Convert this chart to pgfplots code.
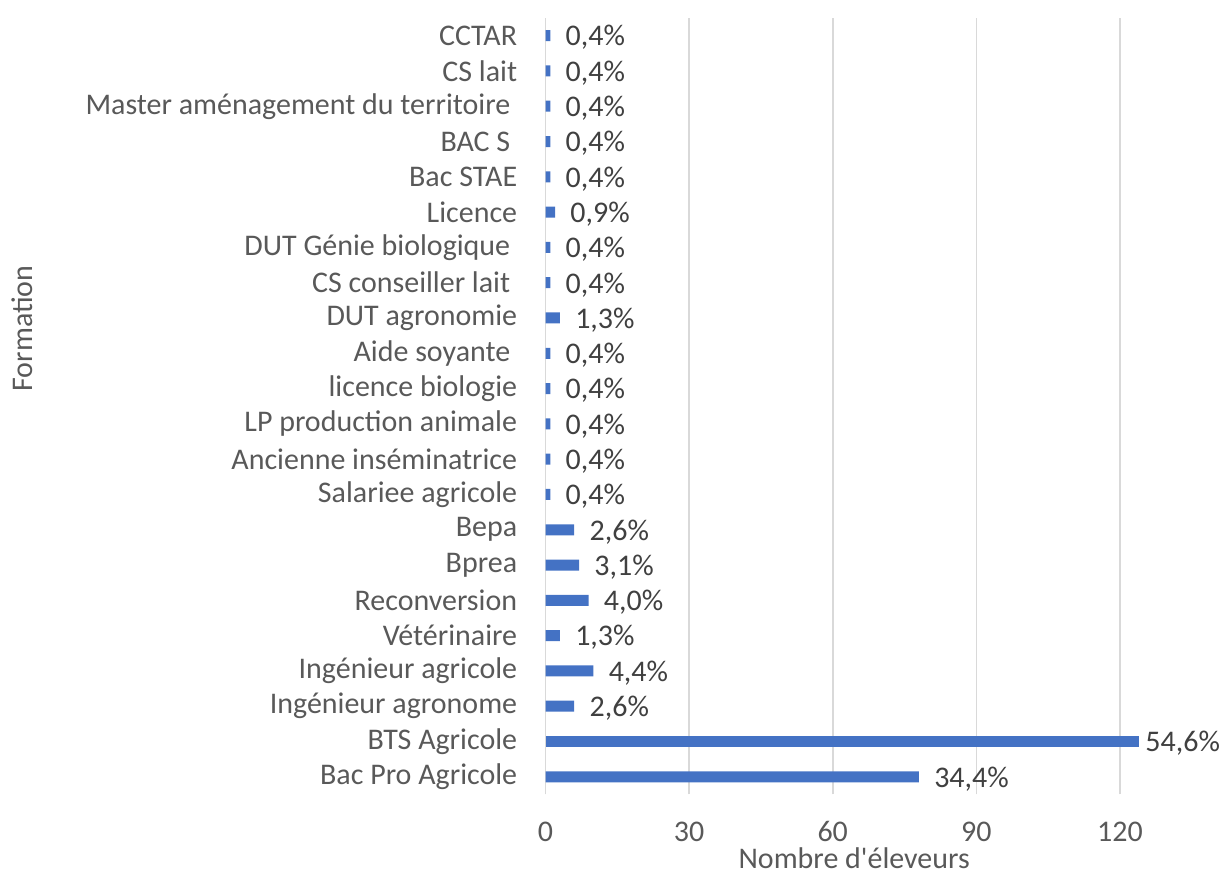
\documentclass[border=0pt]{standalone}
\usepackage{pgfplots}
\pgfplotsset{compat=1.18}
\usepackage{fontspec}
\setmainfont{Carlito}
\definecolor{barblue}{HTML}{4472C4}
\definecolor{gridgray}{HTML}{D9D9D9}
\definecolor{labgray}{HTML}{595959}
\definecolor{valgray}{HTML}{404040}

\begin{document}
\begin{tikzpicture}
\begin{axis}[
  scale only axis,
  width=297pt, height=388.5pt,
  xmin=0, xmax=124,
  ymin=-0.5, ymax=21.5,
  xtick={0,30,60,90,120},
  ytick={0,...,21},
  yticklabels={Bac Pro Agricole, BTS Agricole, Ingénieur agronome, Ingénieur agricole,
    Vétérinaire, Reconversion, Bprea, Bepa, Salariee agricole, Ancienne inséminatrice,
    LP production animale, licence biologie, {Aide soyante\kern0.23em}, DUT agronomie,
    {CS conseiller lait\kern0.23em}, {DUT Génie biologique\kern0.23em}, Licence, Bac STAE, {BAC S\kern0.23em},
    {Master aménagement du territoire\kern0.23em}, CS lait, CCTAR},
  axis lines*=left,
  x axis line style={draw=none},
  y axis line style={draw=gridgray, line width=0.8pt},
  xmajorgrids,
  major grid style={draw=gridgray, line width=0.8pt},
  major tick length=0pt,
  /pgf/number format/assume math mode=true,
  every tick label/.append style={font=\fontsize{15}{18}\selectfont, text=labgray},
  xticklabel style={anchor=center, inner sep=0pt, yshift=-18.5pt},
  yticklabel style={anchor=east, inner sep=0pt, xshift=-14pt},
  xlabel={Nombre d\textquotesingle éleveurs},
  xlabel style={at={(axis description cs:0.52,-0.082)}, anchor=center, inner sep=0pt,
    font=\fontsize{15}{18}\selectfont, text=labgray},
  xbar, bar width=5.5pt, bar shift=0pt,
  point meta=explicit symbolic,
  nodes near coords={\pgfplotspointmeta},
  nodes near coords style={anchor=west, inner sep=0pt, xshift=7.5pt, yshift=-1pt,
    font=\fontsize{15}{18}\selectfont, text=valgray},
  clip=false,
]
\addplot[fill=barblue, draw=none] coordinates {
  (78,0) [34,4\%]
  (6,2) [2,6\%]
  (10,3) [4,4\%]
  (3,4) [1,3\%]
  (9,5) [4,0\%]
  (7,6) [3,1\%]
  (6,7) [2,6\%]
  (1,8) [0,4\%]
  (1,9) [0,4\%]
  (1,10) [0,4\%]
  (1,11) [0,4\%]
  (1,12) [0,4\%]
  (3,13) [1,3\%]
  (1,14) [0,4\%]
  (1,15) [0,4\%]
  (2,16) [0,9\%]
  (1,17) [0,4\%]
  (1,18) [0,4\%]
  (1,19) [0,4\%]
  (1,20) [0,4\%]
  (1,21) [0,4\%]
};
\addplot[fill=barblue, draw=none, nodes near coords style={xshift=-4.5pt}] coordinates {
  (124,1) [54,6\%]
};
\node[rotate=90, font=\fontsize{15}{18}\selectfont, text=labgray]
  at (axis description cs:-0.882,0.60) {Formation};
\path (axis description cs:-0.919,-0.1035) rectangle (axis description cs:1.1347,1.0232);
\end{axis}
\end{tikzpicture}
\end{document}
